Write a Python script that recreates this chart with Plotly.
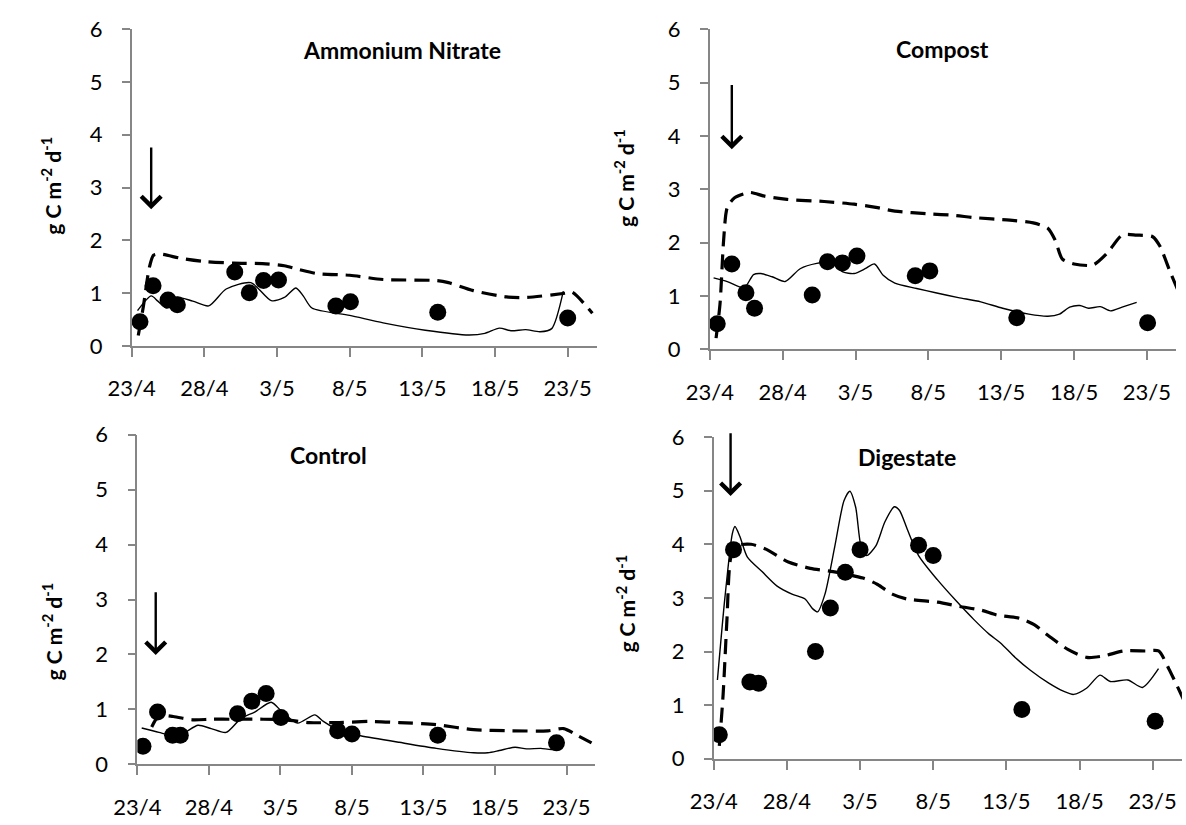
import plotly.graph_objects as go

# ---------------- data (x = days since 23 April) ----------------
tick_days = [0, 5, 10, 15, 20, 25, 30]
tick_labels = ["23/4", "28/4", "3/5", "8/5", "13/5", "18/5", "23/5"]
y_ticks = [0, 1, 2, 3, 4, 5, 6]
panel_titles = ["Ammonium Nitrate", "Compost", "Control", "Digestate"]

# Ammonium Nitrate
an_obs_day = [0.57, 1.47, 2.5, 3.14, 7.09, 8.09, 9.07, 10.1, 14.05, 15.05, 21.06, 30.0]
an_obs_val = [0.46, 1.14, 0.87, 0.78, 1.40, 1.01, 1.24, 1.25, 0.76, 0.84, 0.64, 0.53]
an_solid_day = [0.4, 1.34, 1.8, 2.4, 3.1, 4.2, 5.3, 6.5, 8.2, 9.6, 10.5, 11.3, 11.8, 12.4, 15.0,
                17.3, 20.2, 23.2, 24.3, 25.3, 26.1, 27.1, 28.1, 28.9, 29.7]
an_solid_val = [0.67, 0.95, 0.85, 0.72, 0.92, 0.85, 0.76, 1.08, 1.20, 0.86, 0.92, 1.10, 0.95, 0.72, 0.58,
                0.44, 0.30, 0.21, 0.24, 0.34, 0.29, 0.31, 0.27, 0.33, 1.04]
an_dash_day = [0.45, 0.8, 1.2, 1.5, 2.0, 3.4, 5.0, 7.0, 9.0, 10.5, 11.5, 12.8, 15.0, 17.3, 21.0,
               21.8, 23.5, 25.8, 27.2, 29.8, 30.3, 31.7]
an_dash_val = [0.20, 0.75, 1.47, 1.72, 1.74, 1.66, 1.60, 1.57, 1.56, 1.52, 1.45, 1.37, 1.34, 1.26, 1.24,
               1.20, 1.05, 0.93, 0.92, 1.00, 1.02, 0.62]
an_arrow = [1.34, 3.79, 2.59]   # day, tail value, head value

# Compost
co_obs_day = [0.51, 1.51, 2.48, 3.07, 7.03, 8.08, 9.1, 10.1, 14.1, 15.1, 21.07, 30.05]
co_obs_val = [0.48, 1.60, 1.06, 0.77, 1.02, 1.64, 1.62, 1.75, 1.38, 1.47, 0.59, 0.50]
co_solid_day = [0.26, 1.2, 2.35, 3.0, 3.5, 4.27, 5.17, 6.2, 7.34, 8.36, 9.13, 9.9, 10.66, 11.3, 11.9,
                12.7, 14.2, 15.5, 17.06, 18.6, 20.1, 21.9, 23.2, 24.0, 24.7, 25.4, 26.0, 26.8, 27.5,
                28.3, 29.3]
co_solid_val = [1.34, 1.27, 1.15, 1.40, 1.42, 1.36, 1.27, 1.51, 1.61, 1.63, 1.45, 1.42, 1.51, 1.60, 1.39,
                1.24, 1.14, 1.06, 0.97, 0.89, 0.77, 0.66, 0.62, 0.66, 0.79, 0.82, 0.77, 0.80, 0.72,
                0.79, 0.88]
co_dash_day = [0.43, 0.7, 0.95, 1.2, 1.7, 2.74, 3.76, 5.3, 7.85, 9.9, 11.4, 12.7, 15.0, 16.8, 18.1,
               20.6, 22.2, 23.2, 23.7, 24.2, 25.0, 26.3, 27.3, 28.3, 29.3, 30.4, 30.9, 31.6, 32.3]
co_dash_val = [0.21, 0.85, 2.05, 2.66, 2.84, 2.94, 2.87, 2.81, 2.77, 2.72, 2.66, 2.59, 2.54, 2.51, 2.47,
               2.42, 2.37, 2.27, 2.05, 1.69, 1.60, 1.58, 1.81, 2.14, 2.14, 2.11, 1.93, 1.45, 1.00]
co_arrow = [1.51, 4.98, 3.75]

# Control
ct_obs_day = [0.39, 1.41, 2.46, 3.0, 7.0, 8.0, 9.0, 10.03, 14.0, 15.0, 21.0, 29.3]
ct_obs_val = [0.33, 0.95, 0.53, 0.53, 0.92, 1.15, 1.29, 0.85, 0.61, 0.55, 0.53, 0.39]
ct_solid_day = [0.3, 1.5, 2.5, 3.3, 4.24, 5.16, 6.2, 7.26, 8.2, 9.35, 10.1, 11.2, 12.4, 13.0, 14.3,
                15.6, 18.3, 20.9, 23.5, 24.5, 25.3, 26.4, 27.2, 28.2, 29.0, 29.8]
ct_solid_val = [0.66, 0.58, 0.52, 0.58, 0.71, 0.65, 0.58, 0.84, 0.95, 1.13, 0.96, 0.75, 0.90, 0.78, 0.59,
                0.52, 0.40, 0.29, 0.21, 0.21, 0.25, 0.31, 0.28, 0.29, 0.27, 0.34]
ct_dash_day = [1.0, 1.5, 2.5, 3.85, 5.2, 6.7, 8.8, 10.4, 12.0, 14.1, 16.2, 18.3, 20.9, 23.5, 26.1,
               28.7, 29.8, 30.8, 31.75]
ct_dash_val = [0.68, 0.88, 0.87, 0.81, 0.82, 0.82, 0.82, 0.81, 0.76, 0.76, 0.78, 0.76, 0.72, 0.63, 0.61,
               0.61, 0.65, 0.52, 0.39]
ct_arrow = [1.28, 3.16, 1.99]

# Digestate
dg_obs_day = [0.38, 1.35, 2.47, 3.06, 6.95, 7.97, 8.99, 10.0, 14.0, 15.0, 21.06, 30.17]
dg_obs_val = [0.45, 3.90, 1.43, 1.41, 2.00, 2.81, 3.48, 3.90, 3.98, 3.79, 0.92, 0.70]
dg_solid_day = [0.25, 0.76, 1.27, 1.45, 1.78, 2.3, 3.3, 4.33, 5.35, 6.24, 6.75, 7.1, 7.6, 8.28, 8.9,
                9.3, 9.7, 10.06, 10.44, 11.08, 11.7, 12.35, 12.7, 13.24, 14.0, 15.28, 16.55, 17.8,
                18.84, 19.6, 20.6, 21.64, 22.9, 23.9, 24.6, 25.5, 26.4, 27.1, 28.3, 29.3, 30.4]
dg_solid_val = [1.47, 3.00, 4.20, 4.33, 4.15, 3.76, 3.49, 3.22, 3.07, 2.98, 2.80, 2.74, 3.07, 3.97, 4.81,
                4.99, 4.69, 3.97, 3.79, 3.97, 4.42, 4.70, 4.63, 4.27, 3.79, 3.34, 2.95, 2.59,
                2.32, 2.16, 1.89, 1.65, 1.41, 1.26, 1.20, 1.32, 1.56, 1.44, 1.47, 1.33, 1.68]
dg_dash_day = [0.38, 0.64, 0.9, 1.15, 1.53, 2.55, 3.56, 5.1, 6.6, 8.15, 10.2, 11.2, 12.2, 13.2, 15.3,
               16.8, 18.3, 19.35, 20.9, 21.9, 22.9, 24.2, 25.5, 26.7, 28.0, 29.5, 30.4, 31.1, 32.1]
dg_dash_val = [0.24, 1.20, 2.59, 3.73, 3.97, 4.00, 3.91, 3.67, 3.55, 3.49, 3.37, 3.25, 3.07, 2.98, 2.92,
               2.84, 2.77, 2.68, 2.62, 2.50, 2.29, 2.04, 1.89, 1.92, 2.01, 2.01, 2.01, 1.68, 1.11]
dg_arrow = [1.15, 6.1, 4.9]

panels = [
    (an_obs_day, an_obs_val, an_solid_day, an_solid_val, an_dash_day, an_dash_val, an_arrow),
    (co_obs_day, co_obs_val, co_solid_day, co_solid_val, co_dash_day, co_dash_val, co_arrow),
    (ct_obs_day, ct_obs_val, ct_solid_day, ct_solid_val, ct_dash_day, ct_dash_val, ct_arrow),
    (dg_obs_day, dg_obs_val, dg_solid_day, dg_solid_val, dg_dash_day, dg_dash_val, dg_arrow),
]

# ---------------- layout geometry ----------------
W, H = 1186, 825
x_domains = [[0.0927, 0.4929], [0.5902, 0.9914], [0.0976, 0.4915], [0.5936, 0.9965]]
y_domains = [[0.5839, 0.9810], [0.5798, 0.9810], [0.0598, 0.4727], [0.0667, 0.4699]]
title_pos = [(386, 37), (937, 36), (311, 456), (901, 458)]       # px centre
ytitle_pos = [(28, 177), (613, 170), (29, 638), (614, 610)]       # px centre

FONT = "Lato"
AXIS_GREY = "#868686"

fig = go.Figure()
layout = dict(
    width=W, height=H,
    margin=dict(l=0, r=0, t=0, b=0),
    paper_bgcolor="white", plot_bgcolor="white",
    showlegend=False,
    font=dict(family=FONT, color="black"),
)
annotations = []

for i, (od, ov, sd, sv, dd, dv, arr) in enumerate(panels):
    k = i + 1
    xa = "x" if k == 1 else f"x{k}"
    ya = "y" if k == 1 else f"y{k}"
    fig.add_trace(go.Scatter(x=dd, y=dv, mode="lines", xaxis=xa, yaxis=ya,
                             line=dict(color="black", width=3.2, dash="15px,8px", shape="spline",
                                       smoothing=0.7)))
    fig.add_trace(go.Scatter(x=sd, y=sv, mode="lines", xaxis=xa, yaxis=ya,
                             line=dict(color="black", width=1.4, shape="spline", smoothing=0.7)))
    fig.add_trace(go.Scatter(x=od, y=ov, mode="markers", xaxis=xa, yaxis=ya,
                             marker=dict(color="black", size=17)))

    layout["xaxis" if k == 1 else f"xaxis{k}"] = dict(
        domain=x_domains[i], anchor=ya, range=[0, 32],
        tickmode="array", tickvals=tick_days, ticktext=tick_labels,
        ticks="outside", ticklen=9, tickwidth=1.5, tickcolor=AXIS_GREY,
        showline=True, linecolor=AXIS_GREY, linewidth=1.8,
        showgrid=False, zeroline=False, ticklabelstandoff=13,
        tickfont=dict(family=FONT, size=22, color="black"),
    )
    layout["yaxis" if k == 1 else f"yaxis{k}"] = dict(
        domain=y_domains[i], anchor=xa, range=[0, 6],
        tickmode="array", tickvals=y_ticks,
        ticks="outside", ticklen=8, tickwidth=1.5, tickcolor=AXIS_GREY,
        showline=True, linecolor=AXIS_GREY, linewidth=1.8,
        showgrid=False, zeroline=False, ticklabelstandoff=15,
        tickfont=dict(family=FONT, size=22, color="black"),
    )
    # arrow
    annotations.append(dict(
        xref=xa, yref=ya, axref=xa, ayref=ya,
        x=arr[0], y=arr[2], ax=arr[0], ay=arr[1], text="",
        showarrow=True, arrowhead=4, arrowsize=1.6, arrowwidth=2.4, arrowcolor="black",
        standoff=0, startstandoff=0,
    ))
    # panel title
    tx, ty = title_pos[i]
    annotations.append(dict(
        xref="paper", yref="paper", x=tx / W, y=1 - ty / H, xanchor="center", yanchor="middle",
        text=panel_titles[i], showarrow=False,
        font=dict(family=FONT, size=23, color="black", weight="bold"),
    ))
    # y-axis title
    yx, yy = ytitle_pos[i]
    annotations.append(dict(
        xref="paper", yref="paper", x=yx / W, y=1 - yy / H, xanchor="center", yanchor="middle",
        text="g C m<sup>-2</sup> d<sup>-1</sup>", textangle=-90, showarrow=False,
        font=dict(family=FONT, size=21, color="black", weight="bold"),
    ))

layout["annotations"] = annotations
fig.update_layout(**layout)
fig.write_html("out.html")
